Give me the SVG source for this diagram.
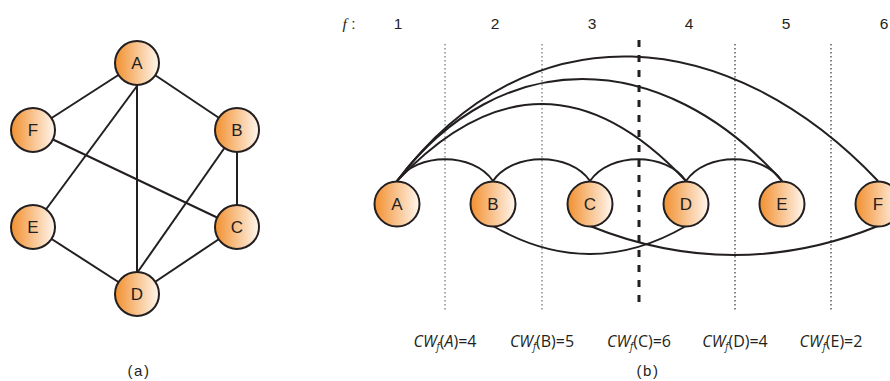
<svg xmlns="http://www.w3.org/2000/svg" width="890" height="381" viewBox="0 0 890 381">
<defs>
<linearGradient id="g" x1="0" y1="0" x2="1" y2="0">
<stop offset="0" stop-color="#F2902F"/>
<stop offset="1" stop-color="#FFF6EE"/>
</linearGradient>
</defs>
<style>
.n circle{fill:url(#g);stroke:#231F20;stroke-width:2}
.n text{font-family:"Liberation Sans",Arial,sans-serif;font-size:17px;fill:#231F20;text-anchor:middle}
.e{stroke:#231F20;stroke-width:2;fill:none}
.dl{stroke:#555;stroke-width:1;stroke-dasharray:1.5 2.5}
.dk{stroke:#111;stroke-width:1;stroke-dasharray:1.5 2.5}
.tk{stroke:#231F20;stroke-width:3;stroke-dasharray:7 8}
.num{font-family:"Liberation Sans",Arial,sans-serif;font-size:15.5px;fill:#231F20;text-anchor:middle}
.cw{font-family:"Open Sans","Liberation Sans",sans-serif;font-size:16px;fill:#231F20;text-anchor:middle}
.cap{font-family:"Liberation Sans",Arial,sans-serif;font-size:15px;letter-spacing:1.5px;fill:#231F20;text-anchor:middle}
</style>
<g id="guides">
<line class="dl" x1="445" y1="44" x2="445" y2="312"/>
<line class="dl" x1="542" y1="44" x2="542" y2="312"/>
<line class="tk" x1="639" y1="40" x2="639" y2="307"/>
<line class="dk" x1="735" y1="44" x2="735" y2="312"/>
<line class="dk" x1="831" y1="44" x2="831" y2="312"/>
</g>
<g id="connectors-a">
<line class="e" x1="137" y1="63" x2="33" y2="130"/>
<line class="e" x1="137" y1="63" x2="237" y2="130"/>
<line class="e" x1="137" y1="86" x2="33" y2="227"/>
<line class="e" x1="137" y1="63" x2="137" y2="294"/>
<line class="e" x1="33" y1="130" x2="237" y2="227"/>
<line class="e" x1="237" y1="130" x2="237" y2="227"/>
<line class="e" x1="237" y1="130" x2="137" y2="273"/>
<line class="e" x1="33" y1="227" x2="137" y2="294"/>
<line class="e" x1="237" y1="227" x2="137" y2="294"/>
</g>
<g id="connectors-b">
<path class="e" d="M397,181 C417,152 473,152 493,181"/>
<path class="e" d="M493,181 C513,152 570,152 590,181"/>
<path class="e" d="M590,181 C610,152 666,152 686,181"/>
<path class="e" d="M686,181 C706,152 762,152 782,181"/>
<path class="e" d="M397,181 Q542,27 686,181"/>
<path class="e" d="M397,181 C500,45 660,45 782,181"/>
<path class="e" d="M397,181 C530,5 730,25 878,181"/>
<path class="e" d="M493,226 Q590,282 686,226"/>
<path class="e" d="M590,226 Q734,284 878,226"/>
</g>
<g id="a-A" class="n"><circle cx="137" cy="63" r="22"/><text x="137" y="69">A</text></g>
<g id="a-B" class="n"><circle cx="237" cy="130" r="22"/><text x="237" y="136">B</text></g>
<g id="a-C" class="n"><circle cx="237" cy="227" r="22"/><text x="237" y="233">C</text></g>
<g id="a-D" class="n"><circle cx="137" cy="294" r="22"/><text x="137" y="300">D</text></g>
<g id="a-E" class="n"><circle cx="33" cy="227" r="22"/><text x="33" y="233">E</text></g>
<g id="a-F" class="n"><circle cx="33" cy="130" r="22"/><text x="33" y="136">F</text></g>
<g id="b-A" class="n"><circle cx="397" cy="204" r="22.5"/><text x="397" y="210">A</text></g>
<g id="b-B" class="n"><circle cx="493" cy="204" r="22.5"/><text x="493" y="210">B</text></g>
<g id="b-C" class="n"><circle cx="590" cy="204" r="22.5"/><text x="590" y="210">C</text></g>
<g id="b-D" class="n"><circle cx="686" cy="204" r="22.5"/><text x="686" y="210">D</text></g>
<g id="b-E" class="n"><circle cx="782" cy="204" r="22.5"/><text x="782" y="210">E</text></g>
<g id="b-F" class="n"><circle cx="878" cy="204" r="22.5"/><text x="878" y="210">F</text></g>
<g id="labels">
<text class="num" x="349" y="29"><tspan font-style="italic" font-family="Liberation Serif,serif">f</tspan> :</text>
<text class="num" x="398" y="29">1</text>
<text class="num" x="495" y="29">2</text>
<text class="num" x="592" y="29">3</text>
<text class="num" x="689" y="29">4</text>
<text class="num" x="786" y="29">5</text>
<text class="num" x="884" y="29">6</text>
<text class="cw" x="445" y="347"><tspan font-style="italic">CW</tspan><tspan font-style="italic" font-size="10" dy="3">f</tspan><tspan dy="-3">(</tspan><tspan font-style="italic">A</tspan>)=4</text>
<text class="cw" x="542" y="347"><tspan font-style="italic">CW</tspan><tspan font-style="italic" font-size="10" dy="3">f</tspan><tspan dy="-3">(B)=5</tspan></text>
<text class="cw" x="639" y="347"><tspan font-style="italic">CW</tspan><tspan font-style="italic" font-size="10" dy="3">f</tspan><tspan dy="-3">(C)=6</tspan></text>
<text class="cw" x="735" y="347"><tspan font-style="italic">CW</tspan><tspan font-style="italic" font-size="10" dy="3">f</tspan><tspan dy="-3">(D)=4</tspan></text>
<text class="cw" x="831" y="347"><tspan font-style="italic">CW</tspan><tspan font-style="italic" font-size="10" dy="3">f</tspan><tspan dy="-3">(E)=2</tspan></text>
<text class="cap" x="139" y="376">(a)</text>
<text class="cap" x="648" y="376">(b)</text>
</g>
</svg>
